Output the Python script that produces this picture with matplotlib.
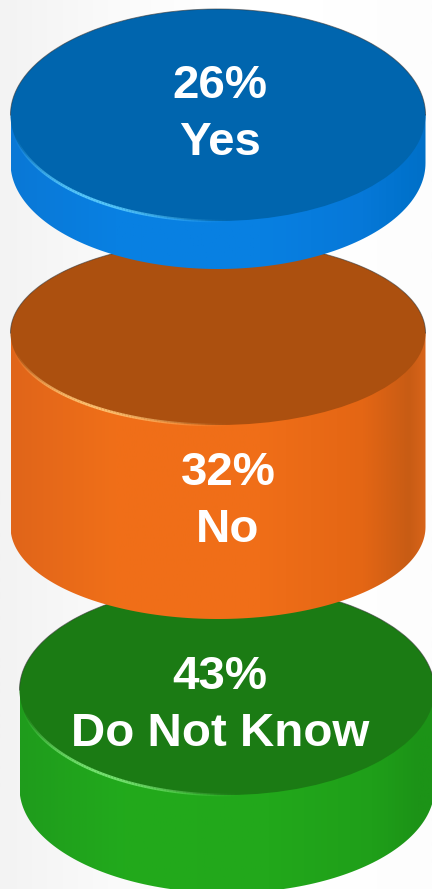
import numpy as np
import matplotlib.pyplot as plt
from matplotlib.colors import LinearSegmentedColormap
from matplotlib.collections import LineCollection
from matplotlib.patches import Ellipse, PathPatch
from matplotlib.path import Path

answers = ['Yes', 'No', 'Do Not Know']
shares = [26, 32, 43]

# pixel geometry of each cylinder
centers_x = [218, 218, 227]
centers_y = [115, 333, 690]
radius_x = 207.5
radius_y = [106, 92, 105]
side_h = [48, 194, 98]
label_x = [220, 228, 220]
share_y = [98, 485, 689]
answer_y = [155, 542, 746]

top_colors = ['#0065ae', '#ac500f', '#1b7b14']
side_stops = [0, 0.25, 0.6, 0.85, 0.96, 1]
side_colors = [
    ['#0a78d6', '#0880e2', '#0880e2', '#0678d8', '#0072cc', '#0070c8'],
    ['#e0651a', '#f06f18', '#f06e18', '#e46614', '#c85c14', '#d8641a'],
    ['#1f9c1c', '#22aa1c', '#22a81b', '#1f9f19', '#1c9317', '#1c9317'],
]
shine_colors = ['#5fd0ff', '#ffc878', '#7fea7a']

plt.rcParams['font.family'] = ['Liberation Sans', 'DejaVu Sans']

fig = plt.figure(figsize=(4.32, 8.89), dpi=100)
ax = fig.add_axes([0, 0, 1, 1])
ax.set_xlim(0, 432)
ax.set_ylim(889, 0)
ax.axis('off')

# pale background, a bit greyer towards the left edge
bg = LinearSegmentedColormap.from_list('bg', ['#f3f3f3', '#fafafa', '#ffffff', '#ffffff', '#fdfdfd'])
ax.imshow(np.linspace(0, 1, 200).reshape(1, -1), cmap=bg, vmin=0, vmax=1,
          extent=(0, 432, 889, 0), aspect='auto', zorder=0)


def draw_cylinder(i, z):
    cx, cy, ry, h = centers_x[i], centers_y[i], radius_y[i], side_h[i]

    t = np.linspace(np.pi, 0, 120)
    xs = cx + radius_x * np.cos(t)
    ys = cy + h + ry * np.sin(t)
    verts = [(cx - radius_x, cy - 1)] + list(zip(xs, ys)) + [(cx + radius_x, cy - 1), (cx - radius_x, cy - 1)]
    side = Path(verts)

    cmap = LinearSegmentedColormap.from_list('side%d' % i, list(zip(side_stops, side_colors[i])))
    img = ax.imshow(np.linspace(0, 1, 256).reshape(1, -1), cmap=cmap,
                    extent=(cx - radius_x, cx + radius_x, cy + h + ry, cy - ry),
                    aspect='auto', zorder=z)
    clip = PathPatch(side, fc='none', ec='none', transform=ax.transData)
    ax.add_patch(clip)
    img.set_clip_path(clip)

    # top face, with a thin dark line along its far edge only
    ax.add_patch(Ellipse((cx, cy), 2 * radius_x, 2 * ry, fc=top_colors[i], ec='none', zorder=z + 2))
    a = np.linspace(np.pi, 2 * np.pi, 120)
    ax.plot(cx + radius_x * np.cos(a), cy + ry * np.sin(a), color='#333333', lw=0.7, alpha=0.6, zorder=z + 3)

    # bright edge on the lower left of the top face, fading out both ways
    a = np.linspace(np.radians(170), np.radians(85), 90)
    px = cx + radius_x * np.cos(a)
    py = cy + ry * np.sin(a)
    segs = np.stack([np.c_[px[:-1], py[:-1]], np.c_[px[1:], py[1:]]], axis=1)
    fade = np.sin(np.linspace(0, np.pi, len(segs))) ** 1.5
    lines = LineCollection(segs, colors=shine_colors[i], linewidths=2.0, zorder=z + 3)
    lines.set_alpha(fade * 0.9)
    ax.add_collection(lines)

    ax.text(label_x[i], share_y[i], '%d%%' % shares[i], color='white', fontsize=34.2, fontweight='bold',
            ha='center', va='baseline', zorder=z + 4)
    ax.text(label_x[i], answer_y[i], answers[i], color='white', fontsize=34.2, fontweight='bold',
            ha='center', va='baseline', zorder=z + 4)


# bottom one first so the upper cylinders sit on top of it
draw_cylinder(2, 1)
draw_cylinder(1, 6)
draw_cylinder(0, 11)

ax.set_xlim(0, 432)
ax.set_ylim(889, 0)

fig.savefig('out.png', dpi=100)
